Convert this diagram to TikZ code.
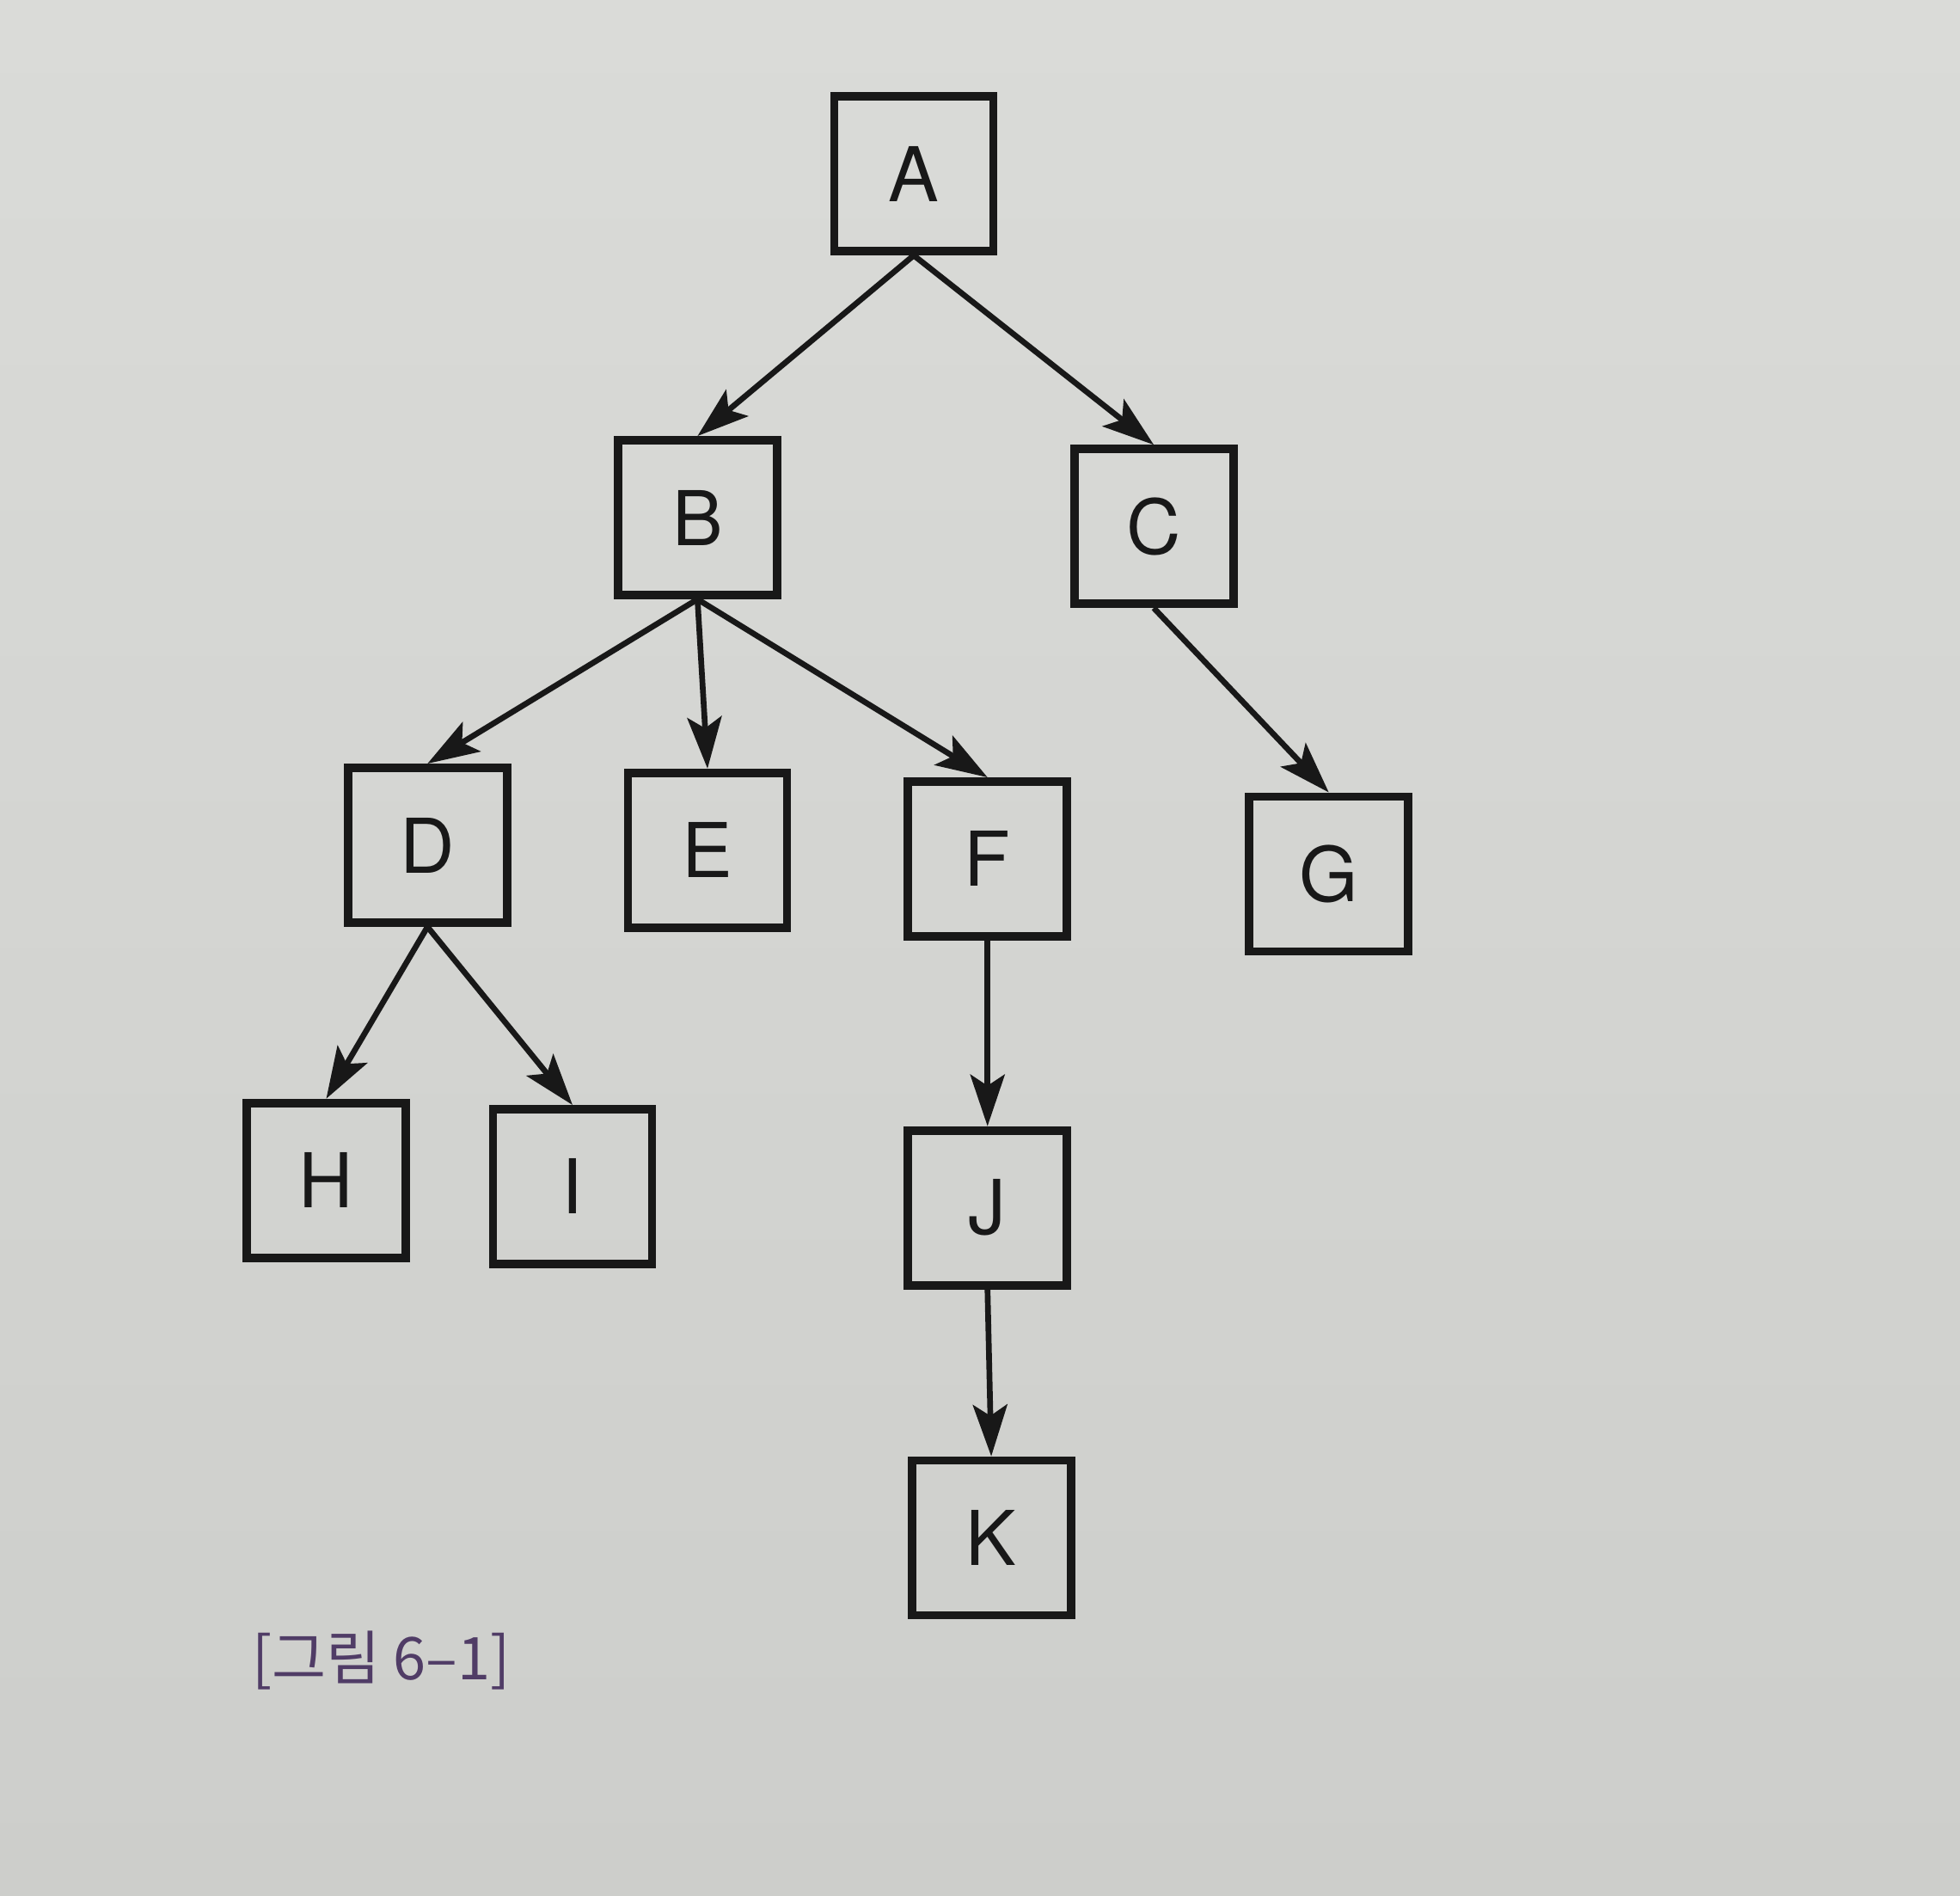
\documentclass[tikz,border=0pt]{standalone}
\usepackage{fontspec}
\setmainfont{TeX Gyre Heros}
\newfontfamily\hangul{Noto Sans CJK KR}
\usetikzlibrary{arrows.meta}
\definecolor{ink}{RGB}{24,24,24}
\definecolor{papertop}{RGB}{218,219,216}
\definecolor{paperbottom}{RGB}{205,206,203}
\definecolor{captionpurple}{RGB}{80,60,102}
\tikzset{
	>={Stealth[length=6mm,width=4mm,inset=1.3mm]},
	treebox/.style={draw=ink, line width=2.8pt, minimum width=1.85cm, minimum height=1.8cm,
		inner sep=0pt, text=ink, font=\fontsize{25}{25}\selectfont},
	branch/.style={->, draw=ink, line width=1.9pt},
	figcaption/.style={text=captionpurple, font=\hangul\fontsize{19.5}{19.5}\selectfont},
}

\begin{document}
\begin{tikzpicture}[x=0.01454cm, y=-0.01454cm]
	\shade[top color=papertop, bottom color=paperbottom] (0,0) rectangle (1568,1516);
	\useasboundingbox (0,0) rectangle (1568,1516);
	\node[treebox] (A) at (731,139) {A};
	\node[treebox] (B) at (558,414) {B};
	\node[treebox] (C) at (923,421) {C};
	\node[treebox] (D) at (342,676) {D};
	\node[treebox] (E) at (566,680) {E};
	\node[treebox] (F) at (790,687) {F};
	\node[treebox] (G) at (1063,699) {G};
	\node[treebox] (H) at (261,944) {H};
	\node[treebox] (I) at (458,949) {I};
	\node[treebox] (J) at (790,966) {J};
	\node[treebox] (K) at (793,1230) {K};
	\node[figcaption] (cap) at (305,1328) {[그림 6–1]};
	\foreach \parent/\kid in {A/B, A/C, B/D, B/E, B/F, C/G, D/H, D/I, F/J, J/K}
		\draw[branch] (\parent.south) -- (\kid.north);
\end{tikzpicture}
\end{document}
